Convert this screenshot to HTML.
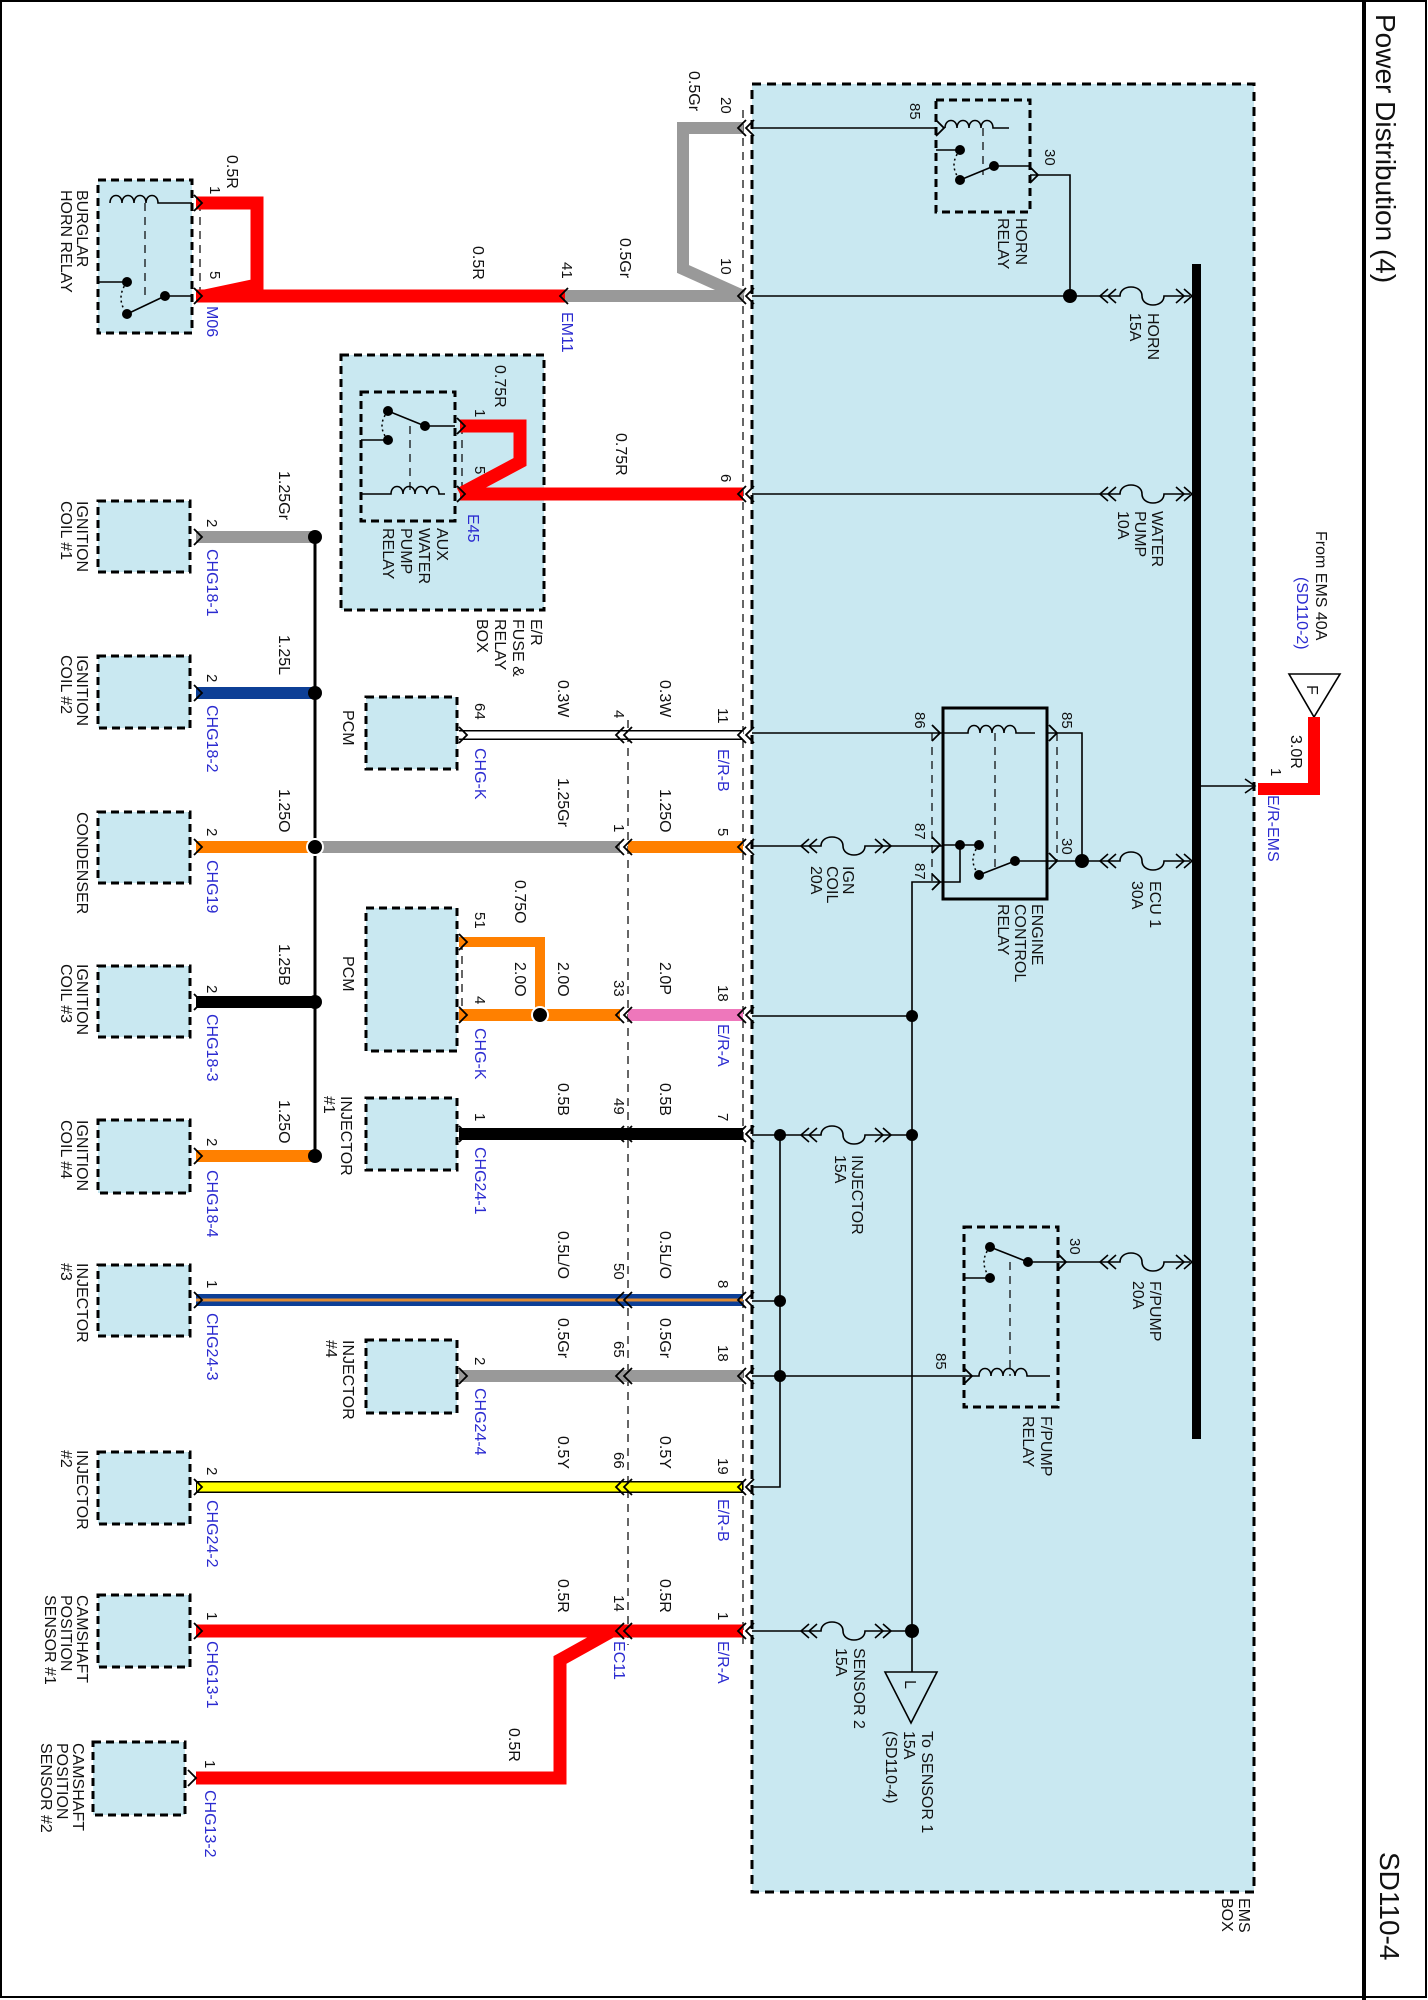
<!DOCTYPE html>
<html><head><meta charset="utf-8">
<style>
html,body{margin:0;padding:0;background:#fff;}
svg{display:block;}
text{font-family:"Liberation Sans",Arial,sans-serif;font-size:16px;fill:#111;}
.b{fill:#2b2bd0;}
.c{font-size:16px;}
.p{font-size:15px;}
</style></head><body>
<svg width="1428" height="2000" viewBox="0 0 1428 2000" xmlns="http://www.w3.org/2000/svg">
<!-- frame -->
<rect x="1" y="1" width="1425" height="1996" fill="none" stroke="#000" stroke-width="2"/>
<line x1="1364" y1="0" x2="1364" y2="2000" stroke="#000" stroke-width="4"/>
<text style="font-size:28px" transform="translate(1376,14) rotate(90)">Power Distribution (4)</text>
<text style="font-size:28px" transform="translate(1380,1852) rotate(90)">SD110-4</text>

<!-- EMS box -->
<rect x="752" y="84" width="502" height="1808" fill="#c9e8f1" stroke="#000" stroke-width="3" stroke-dasharray="9,6"/>
<text class="c" transform="translate(1239,1898) rotate(90)">EMS</text>
<text class="c" transform="translate(1222,1898) rotate(90)">BOX</text>

<!-- component boxes -->
<g fill="#c9e8f1" stroke="#000" stroke-width="3" stroke-dasharray="8,5">
<rect x="98" y="180" width="94" height="153"/>
<rect x="341" y="355" width="203" height="255"/>
<rect x="361" y="392" width="94" height="129"/>
<rect x="98" y="501" width="92" height="71"/>
<rect x="98" y="656" width="92" height="72"/>
<rect x="98" y="812" width="92" height="71"/>
<rect x="98" y="966" width="92" height="71"/>
<rect x="98" y="1120" width="92" height="73"/>
<rect x="98" y="1265" width="92" height="71"/>
<rect x="98" y="1452" width="92" height="72"/>
<rect x="98" y="1595" width="92" height="72"/>
<rect x="93" y="1742" width="92" height="73"/>
<rect x="366" y="697" width="91" height="72"/>
<rect x="366" y="908" width="91" height="143"/>
<rect x="366" y="1098" width="91" height="72"/>
<rect x="366" y="1340" width="91" height="73"/>
<rect x="936" y="100" width="94" height="112"/>
<rect x="964" y="1227" width="94" height="180"/>
</g>
<rect x="943" y="708" width="104" height="191" fill="none" stroke="#000" stroke-width="3"/>

<!-- connector dashed lines -->
<g stroke="#000" stroke-width="1.2" stroke-dasharray="8,6" fill="none">
<line x1="743" y1="110" x2="743" y2="1645"/>
<line x1="628" y1="720" x2="628" y2="1645"/>
<line x1="932" y1="733" x2="932" y2="882"/>
<line x1="1057" y1="733" x2="1057" y2="861"/>
<line x1="145" y1="203" x2="145" y2="300"/>
<line x1="200" y1="203" x2="200" y2="296"/>
<line x1="995" y1="733" x2="995" y2="870"/>
<line x1="983" y1="128" x2="983" y2="175"/>
<line x1="1010" y1="1262" x2="1010" y2="1376"/>
<line x1="410" y1="426" x2="410" y2="494"/>
<line x1="462" y1="426" x2="462" y2="494"/>
<line x1="462" y1="942" x2="462" y2="1015"/>
</g>

<!-- bus bar -->
<rect x="1192" y="264" width="9" height="1175" fill="#000"/>

<!-- thin internal wiring -->
<g stroke="#000" stroke-width="1.6" fill="none">
<line x1="752" y1="128" x2="936" y2="128"/>
<line x1="752" y1="296" x2="1098" y2="296"/>
<polyline points="1030,175 1070,175 1070,296"/>
<line x1="752" y1="494" x2="1098" y2="494"/>
<line x1="752" y1="733" x2="943" y2="733"/>
<line x1="752" y1="846" x2="799" y2="846"/>
<line x1="889" y1="846" x2="943" y2="846"/>
<polyline points="943,882 912,882 912,1631"/>
<polyline points="1047,733 1082,733 1082,861"/>
<line x1="1047" y1="861" x2="1098" y2="861"/>
<line x1="752" y1="1016" x2="912" y2="1016"/>
<line x1="752" y1="1135" x2="799" y2="1135"/>
<line x1="889" y1="1135" x2="912" y2="1135"/>
<polyline points="752,1487 780,1487 780,1135"/>
<line x1="752" y1="1301" x2="780" y2="1301"/>
<line x1="752" y1="1376" x2="964" y2="1376"/>
<line x1="1058" y1="1262" x2="1098" y2="1262"/>
<line x1="752" y1="1631" x2="799" y2="1631"/>
<line x1="889" y1="1631" x2="912" y2="1631"/>
<line x1="912" y1="1631" x2="912" y2="1672"/>
<line x1="1201" y1="786" x2="1255" y2="786"/>
<polyline points="1245,779 1255,786 1245,793"/>
<!-- fuses -->
<path d="M1098,296 h22 c0,-12 22,-12 22,0 c0,12 22,12 22,0 h26"/>
<path d="M1098,494 h22 c0,-12 22,-12 22,0 c0,12 22,12 22,0 h26"/>
<path d="M1098,861 h22 c0,-12 22,-12 22,0 c0,12 22,12 22,0 h26"/>
<path d="M1098,1262 h22 c0,-12 22,-12 22,0 c0,12 22,12 22,0 h26"/>
<path d="M799,846 h22 c0,-12 22,-12 22,0 c0,12 22,12 22,0 h24"/>
<path d="M799,1135 h22 c0,-12 22,-12 22,0 c0,12 22,12 22,0 h24"/>
<path d="M799,1631 h22 c0,-12 22,-12 22,0 c0,12 22,12 22,0 h24"/>
<!-- fuse chevrons -->
<g>
<path d="M1108,289 l-8,7 l8,7 M1116,289 l-8,7 l8,7 M1176,289 l8,7 l-8,7 M1184,289 l8,7 l-8,7"/>
<path d="M1108,487 l-8,7 l8,7 M1116,487 l-8,7 l8,7 M1176,487 l8,7 l-8,7 M1184,487 l8,7 l-8,7"/>
<path d="M1108,854 l-8,7 l8,7 M1116,854 l-8,7 l8,7 M1176,854 l8,7 l-8,7 M1184,854 l8,7 l-8,7"/>
<path d="M1108,1255 l-8,7 l8,7 M1116,1255 l-8,7 l8,7 M1176,1255 l8,7 l-8,7 M1184,1255 l8,7 l-8,7"/>
<path d="M809,839 l-8,7 l8,7 M817,839 l-8,7 l8,7 M875,839 l8,7 l-8,7 M883,839 l8,7 l-8,7"/>
<path d="M809,1128 l-8,7 l8,7 M817,1128 l-8,7 l8,7 M875,1128 l8,7 l-8,7 M883,1128 l8,7 l-8,7"/>
<path d="M809,1624 l-8,7 l8,7 M817,1624 l-8,7 l8,7 M875,1624 l8,7 l-8,7 M883,1624 l8,7 l-8,7"/>
</g>
<!-- relay internals: horn relay -->
<path d="M945,128 c0,-10 12,-10 12,0 c0,-10 12,-10 12,0 c0,-10 12,-10 12,0 c0,-10 12,-10 12,0 h16"/>
<polyline points="936,150 960,150"/>
<line x1="960" y1="180" x2="994" y2="166"/>
<line x1="994" y1="166" x2="1030" y2="166"/>
<!-- burglar relay -->
<path d="M110,203 c0,-10 12,-10 12,0 c0,-10 12,-10 12,0 c0,-10 12,-10 12,0 c0,-10 12,-10 12,0 h34"/>
<polyline points="98,282 127,282"/>
<line x1="127" y1="314" x2="165" y2="296"/>
<line x1="165" y1="296" x2="192" y2="296"/>
<!-- aux relay -->
<path d="M361,494 h30 c0,-10 12,-10 12,0 c0,-10 12,-10 12,0 c0,-10 12,-10 12,0 c0,-10 12,-10 12,0 h6"/>
<polyline points="361,440 388,440"/>
<line x1="388" y1="411" x2="425" y2="426"/>
<line x1="425" y1="426" x2="455" y2="426"/>
<!-- ECR -->
<path d="M943,733 h25 c0,-10 12,-10 12,0 c0,-10 12,-10 12,0 c0,-10 12,-10 12,0 c0,-10 12,-10 12,0 h19"/>
<polyline points="943,845 979,845"/>
<polyline points="960,845 960,882 943,882"/>
<line x1="979" y1="875" x2="1015" y2="861"/>
<line x1="1015" y1="861" x2="1047" y2="861"/>
<!-- fpump relay -->
<path d="M964,1376 h15 c0,-10 12,-10 12,0 c0,-10 12,-10 12,0 c0,-10 12,-10 12,0 c0,-10 12,-10 12,0 h23"/>
<polyline points="964,1278 990,1278"/>
<line x1="990" y1="1247" x2="1028" y2="1262"/>
<line x1="1028" y1="1262" x2="1058" y2="1262"/>
<!-- triangles -->
<polygon points="1289,674 1340,674 1314,717" fill="#fff"/>
<polygon points="885,1672 937,1672 911,1723" fill="none"/>
<!-- ignition vertical -->
<line x1="315" y1="537" x2="315" y2="1156" stroke-width="3"/>
</g>
<g fill="none" stroke="#000" stroke-width="1.5" stroke-dasharray="2,3">
<path d="M127,282 q-12,16 0,32"/><path d="M388,411 q-12,15 0,29"/><path d="M960,150 q-12,15 0,30"/><path d="M979,845 q-12,15 0,30"/><path d="M990,1247 q-12,15 0,31"/>
</g>
<g fill="#000">
<circle cx="127" cy="282" r="5"/><circle cx="127" cy="314" r="5"/><circle cx="165" cy="296" r="5"/>
<circle cx="388" cy="411" r="5"/><circle cx="388" cy="440" r="5"/><circle cx="425" cy="426" r="5"/>
<circle cx="960" cy="150" r="5"/><circle cx="960" cy="180" r="5"/><circle cx="994" cy="166" r="5"/>
<circle cx="960" cy="845" r="5"/><circle cx="979" cy="845" r="5"/><circle cx="979" cy="875" r="5"/><circle cx="1015" cy="861" r="5"/>
<circle cx="990" cy="1247" r="5"/><circle cx="990" cy="1278" r="5"/><circle cx="1028" cy="1262" r="5"/>
<circle cx="1070" cy="296" r="7"/><circle cx="1082" cy="861" r="7"/>
<circle cx="912" cy="1016" r="6"/><circle cx="912" cy="1135" r="6"/><circle cx="912" cy="1631" r="7"/>
<circle cx="780" cy="1135" r="6"/><circle cx="780" cy="1301" r="6"/><circle cx="780" cy="1376" r="6"/>
</g>

<!-- thick wires -->
<g fill="none" stroke-linejoin="miter">
<polyline points="743,128 683,128 683,269 743,296" stroke="#999" stroke-width="12"/>
<line x1="743" y1="296" x2="565" y2="296" stroke="#999" stroke-width="12"/>
<line x1="565" y1="296" x2="196" y2="296" stroke="#f00" stroke-width="13"/>
<polyline points="196,203 257,203 257,285 205,296" stroke="#f00" stroke-width="13"/>
<line x1="743" y1="494" x2="460" y2="494" stroke="#f00" stroke-width="13"/>
<polyline points="460,494 520,462 520,426 460,426" stroke="#f00" stroke-width="13"/>
<line x1="196" y1="537" x2="315" y2="537" stroke="#999" stroke-width="12"/>
<line x1="196" y1="693" x2="315" y2="693" stroke="#0d3f96" stroke-width="12"/>
<line x1="459" y1="735" x2="743" y2="735" stroke="#000" stroke-width="10"/>
<line x1="459" y1="735" x2="743" y2="735" stroke="#fff" stroke-width="7"/>
<line x1="196" y1="847" x2="315" y2="847" stroke="#ff8000" stroke-width="12"/>
<line x1="315" y1="847" x2="620" y2="847" stroke="#999" stroke-width="12"/>
<line x1="628" y1="847" x2="743" y2="847" stroke="#ff8000" stroke-width="12"/>
<polyline points="459,942 540,942 540,1015" stroke="#ff8000" stroke-width="10"/>
<line x1="459" y1="1015" x2="620" y2="1015" stroke="#ff8000" stroke-width="12"/>
<line x1="628" y1="1015" x2="743" y2="1015" stroke="#ee77bb" stroke-width="12"/>
<line x1="196" y1="1002" x2="315" y2="1002" stroke="#000" stroke-width="12"/>
<line x1="459" y1="1134" x2="743" y2="1134" stroke="#000" stroke-width="12"/>
<line x1="196" y1="1156" x2="315" y2="1156" stroke="#ff8000" stroke-width="12"/>
<line x1="196" y1="1300" x2="743" y2="1300" stroke="#0d3f96" stroke-width="12"/>
<line x1="196" y1="1300" x2="743" y2="1300" stroke="#e08a30" stroke-width="3"/>
<line x1="459" y1="1376" x2="743" y2="1376" stroke="#999" stroke-width="12"/>
<line x1="196" y1="1487" x2="743" y2="1487" stroke="#000" stroke-width="12"/>
<line x1="197" y1="1487" x2="742" y2="1487" stroke="#ff0" stroke-width="9"/>
<line x1="196" y1="1631" x2="743" y2="1631" stroke="#f00" stroke-width="13"/>
<polyline points="612,1631 560,1660 560,1778 196,1778" stroke="#f00" stroke-width="13"/>
<polyline points="1314,717 1314,789 1258,789" stroke="#f00" stroke-width="12"/>
</g>
<g fill="#000">
<circle cx="315" cy="537" r="7"/><circle cx="315" cy="693" r="7"/><circle cx="315" cy="847" r="8" stroke="#fff" stroke-width="2"/><circle cx="315" cy="1002" r="7"/><circle cx="315" cy="1156" r="7"/>
<circle cx="540" cy="1015" r="8" stroke="#fff" stroke-width="2"/>
</g>

<!-- chevrons at pins -->
<g fill="none" stroke="#000" stroke-width="1.8">
<path d="M746,120 l-8,8 l8,8 M754,120 l-8,8 l8,8"/>
<path d="M746,288 l-8,8 l8,8 M754,288 l-8,8 l8,8"/>
<path d="M746,486 l-8,8 l8,8 M754,486 l-8,8 l8,8"/>
<path d="M746,727 l-8,8 l8,8 M754,727 l-8,8 l8,8"/>
<path d="M746,839 l-8,8 l8,8 M754,839 l-8,8 l8,8"/>
<path d="M746,1007 l-8,8 l8,8 M754,1007 l-8,8 l8,8"/>
<path d="M746,1126 l-8,8 l8,8 M754,1126 l-8,8 l8,8"/>
<path d="M746,1292 l-8,8 l8,8 M754,1292 l-8,8 l8,8"/>
<path d="M746,1368 l-8,8 l8,8 M754,1368 l-8,8 l8,8"/>
<path d="M746,1479 l-8,8 l8,8 M754,1479 l-8,8 l8,8"/>
<path d="M746,1623 l-8,8 l8,8 M754,1623 l-8,8 l8,8"/>
<path d="M568,288 l-8,8 l8,8"/>
<path d="M624,727 l-8,8 l8,8 M632,727 l-8,8 l8,8"/>
<path d="M624,839 l-8,8 l8,8 M632,839 l-8,8 l8,8"/>
<path d="M624,1007 l-8,8 l8,8 M632,1007 l-8,8 l8,8"/>
<path d="M624,1126 l-8,8 l8,8 M632,1126 l-8,8 l8,8"/>
<path d="M624,1292 l-8,8 l8,8 M632,1292 l-8,8 l8,8"/>
<path d="M624,1368 l-8,8 l8,8 M632,1368 l-8,8 l8,8"/>
<path d="M624,1479 l-8,8 l8,8 M632,1479 l-8,8 l8,8"/>
<path d="M624,1623 l-8,8 l8,8 M632,1623 l-8,8 l8,8"/>
<path d="M194,195 l8,8 l-8,8 M194,288 l8,8 l-8,8 M194,529 l8,8 l-8,8 M194,685 l8,8 l-8,8 M194,839 l8,8 l-8,8 M194,994 l8,8 l-8,8 M194,1148 l8,8 l-8,8 M194,1292 l8,8 l-8,8 M194,1479 l8,8 l-8,8 M194,1623 l8,8 l-8,8 M188,1770 l8,8 l-8,8"/>
<path d="M457,418 l8,8 l-8,8 M457,486 l8,8 l-8,8 M459,727 l8,8 l-8,8 M459,934 l8,8 l-8,8 M459,1007 l8,8 l-8,8 M459,1126 l8,8 l-8,8 M459,1368 l8,8 l-8,8"/>
<path d="M936,120 l8,8 l-8,8 M1030,167 l8,8 l-8,8 M932,725 l8,8 l-8,8 M932,837 l8,8 l-8,8 M932,874 l8,8 l-8,8 M1049,725 l8,8 l-8,8 M1049,853 l8,8 l-8,8 M964,1368 l8,8 l-8,8 M1058,1254 l8,8 l-8,8"/>
</g>

<!-- labels: component names -->
<text class="c" transform="translate(77,190) rotate(90)">BURGLAR</text>
<text class="c" transform="translate(61,190) rotate(90)">HORN RELAY</text>
<text class="c" transform="translate(437,528) rotate(90)">AUX</text>
<text class="c" transform="translate(419,528) rotate(90)">WATER</text>
<text class="c" transform="translate(401,528) rotate(90)">PUMP</text>
<text class="c" transform="translate(383,528) rotate(90)">RELAY</text>
<text class="c" transform="translate(531,619) rotate(90)">E/R</text>
<text class="c" transform="translate(513,619) rotate(90)">FUSE &amp;</text>
<text class="c" transform="translate(495,619) rotate(90)">RELAY</text>
<text class="c" transform="translate(477,619) rotate(90)">BOX</text>
<text class="c" transform="translate(77,501) rotate(90)">IGNITION</text>
<text class="c" transform="translate(61,501) rotate(90)">COIL #1</text>
<text class="c" transform="translate(77,655) rotate(90)">IGNITION</text>
<text class="c" transform="translate(61,655) rotate(90)">COIL #2</text>
<text class="c" transform="translate(77,812) rotate(90)">CONDENSER</text>
<text class="c" transform="translate(77,964) rotate(90)">IGNITION</text>
<text class="c" transform="translate(61,964) rotate(90)">COIL #3</text>
<text class="c" transform="translate(77,1120) rotate(90)">IGNITION</text>
<text class="c" transform="translate(61,1120) rotate(90)">COIL #4</text>
<text class="c" transform="translate(77,1263) rotate(90)">INJECTOR</text>
<text class="c" transform="translate(61,1263) rotate(90)">#3</text>
<text class="c" transform="translate(77,1450) rotate(90)">INJECTOR</text>
<text class="c" transform="translate(61,1450) rotate(90)">#2</text>
<text class="c" transform="translate(77,1595) rotate(90)">CAMSHAFT</text>
<text class="c" transform="translate(61,1595) rotate(90)">POSITION</text>
<text class="c" transform="translate(45,1595) rotate(90)">SENSOR #1</text>
<text class="c" transform="translate(73,1743) rotate(90)">CAMSHAFT</text>
<text class="c" transform="translate(57,1743) rotate(90)">POSITION</text>
<text class="c" transform="translate(41,1743) rotate(90)">SENSOR #2</text>
<text class="c" transform="translate(343,710) rotate(90)">PCM</text>
<text class="c" transform="translate(343,956) rotate(90)">PCM</text>
<text class="c" transform="translate(341,1096) rotate(90)">INJECTOR</text>
<text class="c" transform="translate(324,1096) rotate(90)">#1</text>
<text class="c" transform="translate(343,1340) rotate(90)">INJECTOR</text>
<text class="c" transform="translate(326,1340) rotate(90)">#4</text>
<text class="c" transform="translate(1016,218) rotate(90)">HORN</text>
<text class="c" transform="translate(998,218) rotate(90)">RELAY</text>
<text class="c" transform="translate(1148,313) rotate(90)">HORN</text>
<text class="c" transform="translate(1130,313) rotate(90)">15A</text>
<text class="c" transform="translate(1152,511) rotate(90)">WATER</text>
<text class="c" transform="translate(1135,511) rotate(90)">PUMP</text>
<text class="c" transform="translate(1118,511) rotate(90)">10A</text>
<text class="c" transform="translate(1316,531) rotate(90)">From EMS 40A</text>
<text class="c b" transform="translate(1297,577) rotate(90)">(SD110-2)</text>
<text class="c" transform="translate(1307,685) rotate(90)">F</text>
<text class="c" transform="translate(1032,904) rotate(90)">ENGINE</text>
<text class="c" transform="translate(1015,904) rotate(90)">CONTROL</text>
<text class="c" transform="translate(998,904) rotate(90)">RELAY</text>
<text class="c" transform="translate(843,866) rotate(90)">IGN</text>
<text class="c" transform="translate(827,866) rotate(90)">COIL</text>
<text class="c" transform="translate(811,866) rotate(90)">20A</text>
<text class="c" transform="translate(1150,881) rotate(90)">ECU 1</text>
<text class="c" transform="translate(1132,881) rotate(90)">30A</text>
<text class="c" transform="translate(852,1155) rotate(90)">INJECTOR</text>
<text class="c" transform="translate(835,1155) rotate(90)">15A</text>
<text class="c" transform="translate(1150,1281) rotate(90)">F/PUMP</text>
<text class="c" transform="translate(1133,1281) rotate(90)">20A</text>
<text class="c" transform="translate(1041,1416) rotate(90)">F/PUMP</text>
<text class="c" transform="translate(1023,1416) rotate(90)">RELAY</text>
<text class="c" transform="translate(854,1648) rotate(90)">SENSOR 2</text>
<text class="c" transform="translate(836,1648) rotate(90)">15A</text>
<text class="c" transform="translate(905,1680) rotate(90)">L</text>
<text class="c" transform="translate(922,1731) rotate(90)">To SENSOR 1</text>
<text class="c" transform="translate(904,1731) rotate(90)">15A</text>
<text class="c" transform="translate(886,1731) rotate(90)">(SD110-4)</text>

<!-- wire labels -->
<text transform="translate(689,71) rotate(90)">0.5Gr</text>
<text class="p" transform="translate(721,97) rotate(90)">20</text>
<text transform="translate(227,155) rotate(90)">0.5R</text>
<text class="p" transform="translate(210,186) rotate(90)">1</text>
<text class="p" transform="translate(210,271) rotate(90)">5</text>
<text class="b" transform="translate(207,306) rotate(90)">M06</text>
<text transform="translate(473,246) rotate(90)">0.5R</text>
<text class="p" transform="translate(562,262) rotate(90)">41</text>
<text class="b" transform="translate(562,312) rotate(90)">EM11</text>
<text transform="translate(620,238) rotate(90)">0.5Gr</text>
<text class="p" transform="translate(721,258) rotate(90)">10</text>
<text transform="translate(495,365) rotate(90)">0.75R</text>
<text class="p" transform="translate(475,409) rotate(90)">1</text>
<text class="p" transform="translate(475,466) rotate(90)">5</text>
<text class="b" transform="translate(468,514) rotate(90)">E45</text>
<text transform="translate(616,433) rotate(90)">0.75R</text>
<text class="p" transform="translate(721,474) rotate(90)">6</text>
<text transform="translate(279,471) rotate(90)">1.25Gr</text>
<text class="p" transform="translate(207,519) rotate(90)">2</text>
<text class="b" transform="translate(207,549) rotate(90)">CHG18-1</text>
<text transform="translate(279,635) rotate(90)">1.25L</text>
<text class="p" transform="translate(207,674) rotate(90)">2</text>
<text class="b" transform="translate(207,705) rotate(90)">CHG18-2</text>
<text class="p" transform="translate(475,703) rotate(90)">64</text>
<text class="b" transform="translate(475,748) rotate(90)">CHG-K</text>
<text transform="translate(558,680) rotate(90)">0.3W</text>
<text class="p" transform="translate(614,710) rotate(90)">4</text>
<text transform="translate(660,680) rotate(90)">0.3W</text>
<text class="p" transform="translate(718,708) rotate(90)">11</text>
<text class="b" transform="translate(718,749) rotate(90)">E/R-B</text>
<text transform="translate(279,789) rotate(90)">1.25O</text>
<text class="p" transform="translate(207,828) rotate(90)">2</text>
<text class="b" transform="translate(207,860) rotate(90)">CHG19</text>
<text transform="translate(558,778) rotate(90)">1.25Gr</text>
<text class="p" transform="translate(614,824) rotate(90)">1</text>
<text transform="translate(660,789) rotate(90)">1.25O</text>
<text class="p" transform="translate(718,828) rotate(90)">5</text>
<text class="p" transform="translate(475,912) rotate(90)">51</text>
<text transform="translate(515,880) rotate(90)">0.75O</text>
<text transform="translate(515,962) rotate(90)">2.0O</text>
<text class="p" transform="translate(475,996) rotate(90)">4</text>
<text class="b" transform="translate(475,1028) rotate(90)">CHG-K</text>
<text transform="translate(558,962) rotate(90)">2.0O</text>
<text class="p" transform="translate(614,980) rotate(90)">33</text>
<text transform="translate(660,962) rotate(90)">2.0P</text>
<text class="p" transform="translate(718,985) rotate(90)">18</text>
<text class="b" transform="translate(718,1024) rotate(90)">E/R-A</text>
<text transform="translate(279,944) rotate(90)">1.25B</text>
<text class="p" transform="translate(207,985) rotate(90)">2</text>
<text class="b" transform="translate(207,1014) rotate(90)">CHG18-3</text>
<text transform="translate(279,1100) rotate(90)">1.25O</text>
<text class="p" transform="translate(207,1138) rotate(90)">2</text>
<text class="b" transform="translate(207,1170) rotate(90)">CHG18-4</text>
<text transform="translate(558,1083) rotate(90)">0.5B</text>
<text class="p" transform="translate(614,1098) rotate(90)">49</text>
<text transform="translate(660,1083) rotate(90)">0.5B</text>
<text class="p" transform="translate(718,1113) rotate(90)">7</text>
<text class="p" transform="translate(475,1113) rotate(90)">1</text>
<text class="b" transform="translate(475,1147) rotate(90)">CHG24-1</text>
<text transform="translate(558,1231) rotate(90)">0.5L/O</text>
<text class="p" transform="translate(614,1263) rotate(90)">50</text>
<text transform="translate(660,1231) rotate(90)">0.5L/O</text>
<text class="p" transform="translate(718,1280) rotate(90)">8</text>
<text class="p" transform="translate(207,1280) rotate(90)">1</text>
<text class="b" transform="translate(207,1313) rotate(90)">CHG24-3</text>
<text transform="translate(558,1318) rotate(90)">0.5Gr</text>
<text class="p" transform="translate(614,1341) rotate(90)">65</text>
<text transform="translate(660,1318) rotate(90)">0.5Gr</text>
<text class="p" transform="translate(718,1345) rotate(90)">18</text>
<text class="p" transform="translate(475,1357) rotate(90)">2</text>
<text class="b" transform="translate(475,1388) rotate(90)">CHG24-4</text>
<text transform="translate(558,1436) rotate(90)">0.5Y</text>
<text class="p" transform="translate(614,1452) rotate(90)">66</text>
<text transform="translate(660,1436) rotate(90)">0.5Y</text>
<text class="p" transform="translate(718,1458) rotate(90)">19</text>
<text class="b" transform="translate(718,1499) rotate(90)">E/R-B</text>
<text class="p" transform="translate(207,1467) rotate(90)">2</text>
<text class="b" transform="translate(207,1500) rotate(90)">CHG24-2</text>
<text transform="translate(558,1579) rotate(90)">0.5R</text>
<text class="p" transform="translate(614,1595) rotate(90)">14</text>
<text transform="translate(660,1579) rotate(90)">0.5R</text>
<text class="p" transform="translate(718,1612) rotate(90)">1</text>
<text class="b" transform="translate(614,1641) rotate(90)">EC11</text>
<text class="b" transform="translate(718,1641) rotate(90)">E/R-A</text>
<text class="p" transform="translate(207,1612) rotate(90)">1</text>
<text class="b" transform="translate(207,1641) rotate(90)">CHG13-1</text>
<text transform="translate(509,1728) rotate(90)">0.5R</text>
<text class="p" transform="translate(205,1760) rotate(90)">1</text>
<text class="b" transform="translate(205,1790) rotate(90)">CHG13-2</text>
<!-- EMS internal pin labels -->
<text class="p" transform="translate(910,103) rotate(90)">85</text>
<text class="p" transform="translate(1045,149) rotate(90)">30</text>
<text class="p" transform="translate(915,712) rotate(90)">86</text>
<text class="p" transform="translate(1062,712) rotate(90)">85</text>
<text class="p" transform="translate(915,823) rotate(90)">87</text>
<text class="p" transform="translate(915,863) rotate(90)">87</text>
<text class="p" transform="translate(1062,838) rotate(90)">30</text>
<text class="p" transform="translate(1070,1238) rotate(90)">30</text>
<text class="p" transform="translate(936,1353) rotate(90)">85</text>
<text transform="translate(1291,735) rotate(90)">3.0R</text>
<text class="p" transform="translate(1271,768) rotate(90)">1</text>
<text class="b" transform="translate(1268,795) rotate(90)">E/R-EMS</text>
</svg>
</body></html>
